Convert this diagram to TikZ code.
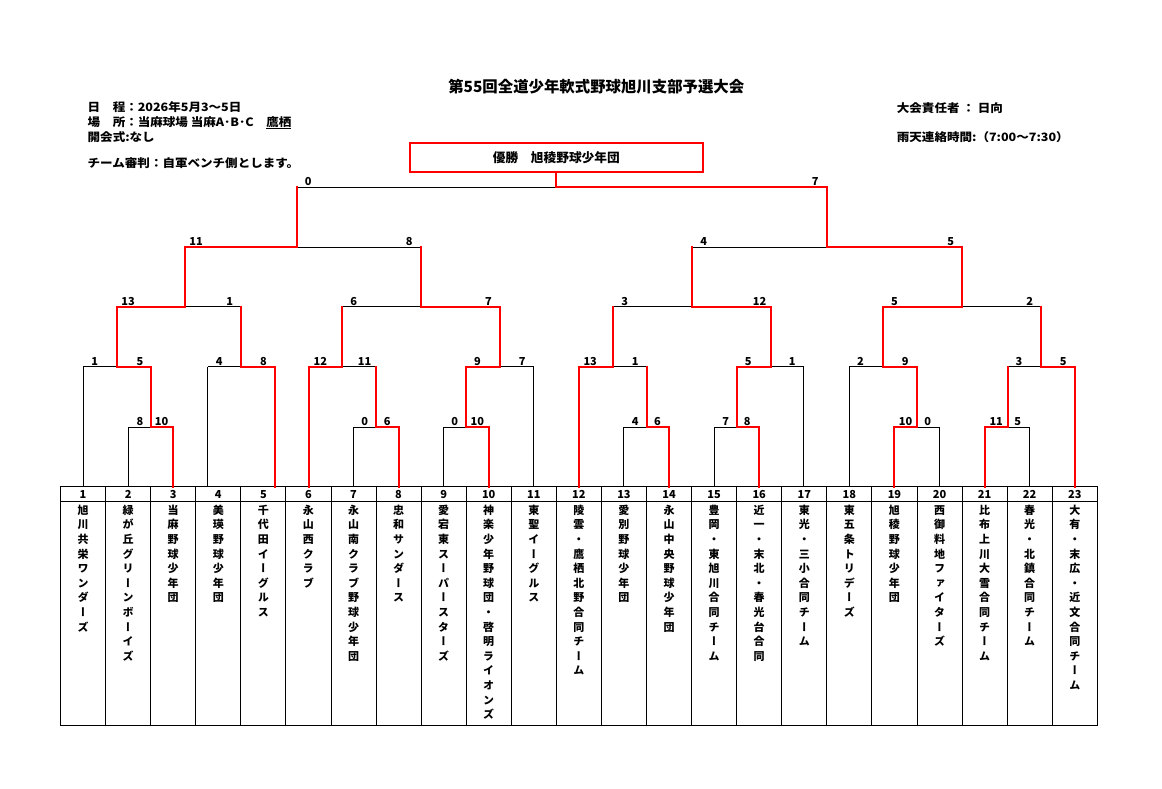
\documentclass[tikz,border=0pt]{standalone}
\usepackage{fontspec}
\usetikzlibrary{calc}
\setmainfont{Noto Sans CJK JP}
\newfontfamily\vjp{Noto Sans CJK JP}[RawFeature=+vert]
\newfontfamily\wjp{Noto Sans CJK JP}[FakeStretch=1.09]
\definecolor{wred}{RGB}{255,0,0}
\makeatletter
\def\vchars#1{\vtop{\baselineskip=14.6pt\lineskiplimit=-100pt\lineskip=0pt\relax\expandafter\vchars@#1\vchars@end}}
\def\vchars@#1{\ifx#1\vchars@end\else\hbox to 14pt{\hss#1\hss}\expandafter\vchars@\fi}
\makeatother
\newcommand\scores[5]{%
  \node[score] (#1l) at ($(#2 |- #1)+(11.5,-1.5)$) {#4};
  \node[score] (#1r) at ($(#3 |- #1)+(-11.5,-1.5)$) {#5};}
\begin{document}
\begin{tikzpicture}[x=1pt,y=-1pt,
  blk/.style={line width=0.9pt,black},
  win/.style={line width=2pt,wred,line cap=rect},
  score/.style={font=\bfseries\fontsize{11}{11}\selectfont,inner sep=0pt,anchor=base},
  info/.style={font=\wjp\bfseries\fontsize{11.5}{12}\selectfont,inner sep=0pt,anchor=base west},
  num/.style={font=\bfseries\fontsize{11}{11}\selectfont,inner sep=0pt,anchor=base},
  tname/.style={font=\vjp\bfseries\fontsize{11}{11}\selectfont,inner sep=0pt,anchor=base}]
\useasboundingbox (0,0) rectangle (1162,788);
\fill[white] (0,0) rectangle (1162,788);
% header
\node[font=\bfseries\fontsize{15.4}{16}\selectfont,inner sep=0pt,anchor=base] (title) at (596.3,92.5) {第55回全道少年軟式野球旭川支部予選大会};
\node[info] (i1) at (87.5,111.5) {日　程：2026年5月3〜5日};
\node[info] (i2) at (87.5,126) {場　所：当麻球場 当麻A･B･C　\underline{鷹栖}};
\node[info] (i3) at (87.5,141) {開会式:なし};
\node[info] (i4) at (87.5,167) {チーム審判：自軍ベンチ側とします。};
\node[info] (i5) at (896.7,112.5) {大会責任者 ： 日向};
\node[info] (i6) at (896.7,141) {雨天連絡時間:（7:00〜7:30）};
\node[draw=wred,line width=2pt,minimum width=292.5pt,minimum height=28.3pt,inner sep=0pt,
  font=\bfseries\fontsize{12.7}{12.7}\selectfont] (champ) at (556.3,157.5) {優勝　旭稜野球少年団};
% table
\draw[blk] (60.5,486.5) rectangle (1097.3,725);
\draw[blk] (60.5,501) -- (1097.3,501);
\foreach \k in {1,...,22} \draw[blk] ({60.5+45.078*\k},486.5) -- ({60.5+45.078*\k},725);
\foreach \i/\nm in {1/旭川共栄ワンダーズ,2/緑が丘グリーンボーイズ,3/当麻野球少年団,4/美瑛野球少年団,
  5/千代田イーグルス,6/永山西クラブ,7/永山南クラブ野球少年団,8/忠和サンダース,9/愛宕東スーパースターズ,
  10/神楽少年野球団・啓明ライオンズ,11/東聖イーグルス,12/陵雲・鷹栖北野合同チーム,13/愛別野球少年団,
  14/永山中央野球少年団,15/豊岡・東旭川合同チーム,16/近一・末北・春光台合同,17/東光・三小合同チーム,
  18/東五条トリデーズ,19/旭稜野球少年団,20/西御料地ファイターズ,21/比布上川大雪合同チーム,
  22/春光・北鎮合同チーム,23/大有・末広・近文合同チーム}{
  \node[num] (n\i) at ({60.5+45.078*(\i-0.5)},498.3) {\i};
  \node[tname] (nm\i) at ({60.5+45.078*(\i-0.5)},514.2) {\vchars{\nm}};
}
% team entry points
\foreach \i/\x in {1/83.3,2/128.5,3/173.0,4/207.6,5/275.0,6/308.8,7/353.3,8/398.8,9/443.3,10/488.8,
  11/533.7,12/578.7,13/623.8,14/668.9,15/714.3,16/758.8,17/803.8,18/849.0,19/894.0,20/939.3,
  21/984.7,22/1029.3,23/1074.7} \coordinate (t\i) at (\x,486.5);
% match points
\foreach \n/\x in {a1/151.4,a2/376.0,a3/466.0,a4/646.8,a5/736.8,a6/916.8,a7/1007.5} \coordinate (\n) at (\x,427);
\foreach \n/\x in {b1/116.6,b2/241.1,b3/342.1,b4/500.0,b5/613.1,b6/771.0,b7/882.9,b8/1041.1} \coordinate (\n) at (\x,366.5);
\foreach \n/\x in {c1/184.6,c2/420.7,c3/692.1,c4/962.1} \coordinate (\n) at (\x,306.5);
\foreach \n/\x in {d1/296.8,d2/826.8} \coordinate (\n) at (\x,247);
\coordinate (e) at (556.1,187);
% black horizontals
\foreach \m/\l/\r in {a1/t2/t3,a2/t7/t8,a3/t9/t10,a4/t13/t14,a5/t15/t16,a6/t19/t20,a7/t21/t22,
  b1/t1/a1,b2/t4/t5,b3/t6/a2,b4/a3/t11,b5/t12/a4,b6/a5/t17,b7/t18/a6,b8/a7/t23,
  c1/b1/b2,c2/b3/b4,c3/b5/b6,c4/b7/b8,d1/c1/c2,d2/c3/c4,e/d1/d2}
  \draw[blk] (\l |- \m) -- (\r |- \m);
% black verticals of losing teams
\foreach \t/\m in {t2/a1,t7/a2,t9/a3,t13/a4,t15/a5,t20/a6,t22/a7,t1/b1,t4/b2,t11/b4,t17/b6,t18/b7}
  \draw[blk] (\t) -- (\t |- \m);
% red paths: team winners
\foreach \t/\m/\p in {t3/a1/b1,t8/a2/b3,t10/a3/b4,t14/a4/b5,t16/a5/b6,t19/a6/b7,t21/a7/b8,
  t5/b2/c1,t6/b3/c2,t12/b5/c3,t23/b8/c4}
  \draw[win] (\t) -- (\t |- \m) -- (\m) -- (\m |- \p);
% red paths: match winners
\foreach \w/\m/\p in {a1/b1/c1,a3/b4/c2,a5/b6/c3,a6/b7/c4,b1/c1/d1,b4/c2/d1,b6/c3/d2,b7/c4/d2,c1/d1/e,c4/d2/e}
  \draw[win] (\w |- \m) -- (\m) -- (\m |- \p);
\draw[win] (d2 |- e) -- (e) -- (e |- champ.south);
% scores
\scores{a1}{t2}{t3}{8}{10}
\scores{a2}{t7}{t8}{0}{6}
\scores{a3}{t9}{t10}{0}{10}
\scores{a4}{t13}{t14}{4}{6}
\scores{a5}{t15}{t16}{7}{8}
\scores{a6}{t19}{t20}{10}{0}
\scores{a7}{t21}{t22}{11}{5}
\scores{b1}{t1}{a1}{1}{5}
\scores{b2}{t4}{t5}{4}{8}
\scores{b3}{t6}{a2}{12}{11}
\scores{b4}{a3}{t11}{9}{7}
\scores{b5}{t12}{a4}{13}{1}
\scores{b6}{a5}{t17}{5}{1}
\scores{b7}{t18}{a6}{2}{9}
\scores{b8}{a7}{t23}{3}{5}
\scores{c1}{b1}{b2}{13}{1}
\scores{c2}{b3}{b4}{6}{7}
\scores{c3}{b5}{b6}{3}{12}
\scores{c4}{b7}{b8}{5}{2}
\scores{d1}{c1}{c2}{11}{8}
\scores{d2}{c3}{c4}{4}{5}
\scores{e}{d1}{d2}{0}{7}
\end{tikzpicture}
\end{document}
